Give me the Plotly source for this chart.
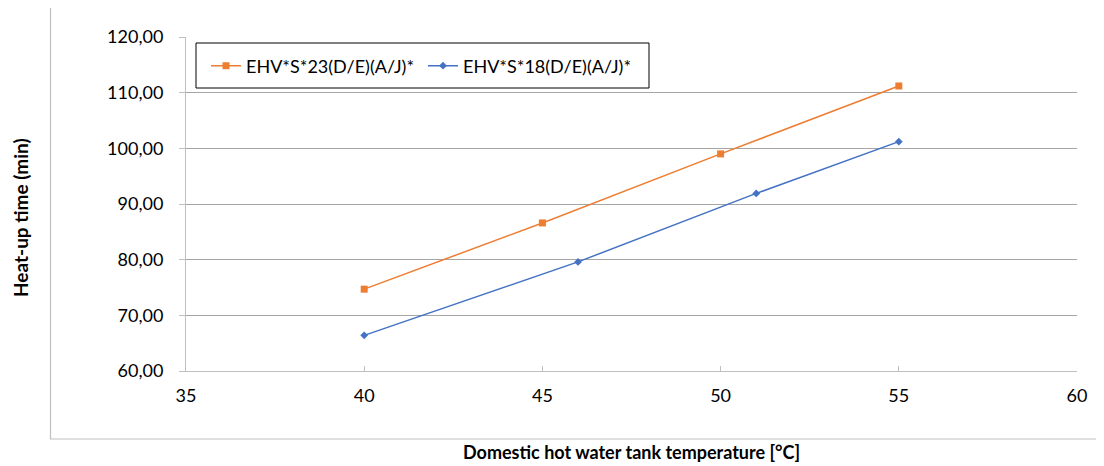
import plotly.graph_objects as go

# Data
series_names = ["EHV*S*23(D/E)(A/J)*", "EHV*S*18(D/E)(A/J)*"]
x_23 = [40, 45, 50, 55]
y_23 = [74.7, 86.6, 99.0, 111.2]
x_18 = [40, 46, 51, 55]
y_18 = [66.4, 79.6, 91.9, 101.2]
x_ticks = [35, 40, 45, 50, 55, 60]
y_ticks = [60, 70, 80, 90, 100, 110, 120]

FONT = "Lato"
OFF = 8  # page body margin
W, H = 1104, 466
# plot area in screen pixels
PL, PR, PT, PB = 186, 1077, 37, 371
pw, ph = PR - PL, PB - PT

def px_x(p):
    return (p - PL) / pw

def px_y(p):
    return (PB - p) / ph

fig = go.Figure()
fig.add_trace(go.Scatter(
    x=x_23, y=y_23, name=series_names[0], mode="lines+markers",
    line=dict(color="#ED7D31", width=1.5),
    marker=dict(symbol="square", size=7, color="#ED7D31"),
))
fig.add_trace(go.Scatter(
    x=x_18, y=y_18, name=series_names[1], mode="lines+markers",
    line=dict(color="#4472C4", width=1.5),
    marker=dict(symbol="diamond", size=6, color="#4472C4"),
))

fig.update_layout(
    width=W, height=H,
    margin=dict(l=PL - OFF, r=W + OFF - PR, t=PT - OFF, b=H + OFF - PB),
    paper_bgcolor="white", plot_bgcolor="white",
    separators=",.",
    font=dict(family=FONT, size=18, color="#000000"),
    showlegend=True,
    legend=dict(
        orientation="h", x=px_x(206), y=px_y(66), xanchor="left", yanchor="middle",
        bgcolor="rgba(0,0,0,0)", borderwidth=0,
        font=dict(family=FONT, size=18, color="#000000"),
        entrywidth=172, itemwidth=30,
    ),
    xaxis=dict(
        range=[35, 60], tickvals=x_ticks, showgrid=False, zeroline=False,
        showline=True, linecolor="#BFBFBF", linewidth=1,
        ticks="inside", ticklen=5, tickcolor="#BFBFBF",
        ticklabelstandoff=8,
        tickfont=dict(family=FONT, size=18),
    ),
    yaxis=dict(
        range=[60, 120], tickvals=y_ticks, tickformat=".2f",
        showgrid=True, gridcolor="#A6A6A6", gridwidth=1, zeroline=False,
        showline=True, linecolor="#BFBFBF", linewidth=1,
        ticks="outside", ticklen=6, tickcolor="#BFBFBF",
        ticklabelstandoff=12,
        tickfont=dict(family=FONT, size=18),
    ),
    shapes=[
        dict(type="rect", xref="paper", yref="paper",
             x0=px_x(50.5), x1=px_x(1112), y0=px_y(439), y1=px_y(5),
             line=dict(color="#BFBFBF", width=1.2), fillcolor="rgba(0,0,0,0)", layer="below"),
        dict(type="rect", xref="paper", yref="paper",
             x0=px_x(196), x1=px_x(649), y0=px_y(88), y1=px_y(43),
             line=dict(color="#000000", width=1), fillcolor="white", layer="above"),
    ],
    annotations=[
        dict(text="<b>Heat-up time (min)</b>", xref="paper", yref="paper",
             x=px_x(20), y=px_y(218), textangle=-90, showarrow=False,
             xanchor="center", yanchor="middle", font=dict(family=FONT, size=19)),
        dict(text="<b>Domestic hot water tank temperature [°C]</b>", xref="paper", yref="paper",
             x=px_x(631), y=px_y(452), showarrow=False,
             xanchor="center", yanchor="middle", font=dict(family=FONT, size=18)),
    ],
)

fig.write_html("out.html")
